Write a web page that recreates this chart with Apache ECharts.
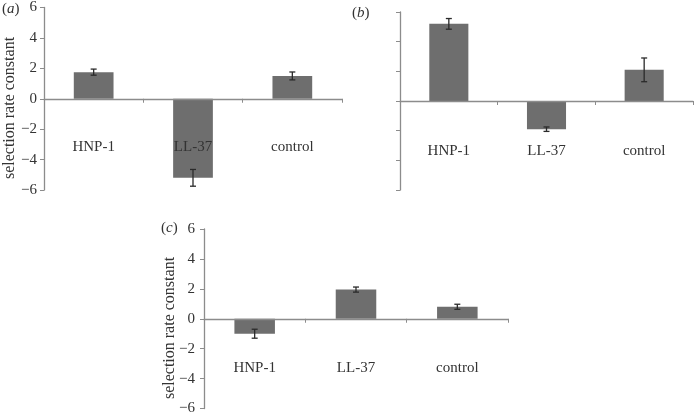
<!DOCTYPE html>
<html>
<head>
<meta charset="utf-8">
<script src="https://cdn.jsdelivr.net/npm/echarts@6/dist/echarts.min.js"></script>
<style>
html,body{margin:0;padding:0;background:#fff;}
#main{width:694px;height:416px;}
</style>
</head>
<body>
<div id="main"></div>
<script>
// ---- data ----
const categories = ['HNP-1', 'LL-37', 'control'];
const valuesA = [1.75, -5.2, 1.5];
const errorsA = [0.2, 0.55, 0.26];
const valuesB = [5.2, -1.9, 2.1];
const errorsB = [0.36, 0.15, 0.8];
const valuesC = [-1.0, 1.95, 0.8];
const errorsC = [0.3, 0.17, 0.17];
const yMin = -6, yMax = 6, yStep = 2;
const yTitle = 'selection rate constant';
const panelLabels = ['a', 'b', 'c'];

const FONT = '"Liberation Serif", "Times New Roman", serif';
const TEXT = '#333';
const AXIS = '#8c8c8c';
const BAR = '#6e6e6e';

const chart = echarts.init(document.getElementById('main'), null, {renderer: 'canvas'});

const grids = [
  {left: 44, top: 7, width: 298, height: 183},
  {left: 400, top: 12, width: 293, height: 178},
  {left: 204, top: 229, width: 304, height: 180}
];
const showYLabels = [true, false, true];
const yLabelMargin = [7, 7, 9];
const xLabelMargin = [-50, -46, -48];
const values = [valuesA, valuesB, valuesC];
const errors = [errorsA, errorsB, errorsC];

const xAxes = grids.map((g, i) => ({
  type: 'category', gridIndex: i, data: categories, z: 5,
  axisLine: {onZero: true, lineStyle: {color: AXIS, width: 1.3}},
  axisTick: {show: true, alignWithLabel: false, length: 4, lineStyle: {color: AXIS}},
  axisLabel: {margin: xLabelMargin[i], fontFamily: FONT, fontSize: 15, color: TEXT}
}));
const yAxes = grids.map((g, i) => ({
  type: 'value', gridIndex: i, min: yMin, max: yMax, interval: yStep,
  splitLine: {show: false},
  axisLine: {show: true, lineStyle: {color: AXIS, width: 1.3}},
  axisTick: {show: true, length: 4, lineStyle: {color: AXIS}},
  axisLabel: {show: showYLabels[i], margin: yLabelMargin[i], fontFamily: FONT, fontSize: 15, color: TEXT,
    formatter: v => String(v).replace('-', '\u2212')}
}));

const series = [];
values.forEach((vals, i) => {
  series.push({
    type: 'bar', xAxisIndex: i, yAxisIndex: i, data: vals, barWidth: '40%',
    itemStyle: {color: BAR}, z: 2
  });
  series.push({
    type: 'custom', xAxisIndex: i, yAxisIndex: i, z: 6,
    data: vals.map((v, k) => [k, v - errors[i][k], v + errors[i][k]]),
    encode: {x: 0, y: [1, 2]},
    renderItem: function (params, api) {
      const lo = api.coord([api.value(0), api.value(1)]);
      const hi = api.coord([api.value(0), api.value(2)]);
      const hw = 3;
      const st = {stroke: '#2a2a2a', lineWidth: 1.3};
      return {type: 'group', children: [
        {type: 'line', shape: {x1: lo[0], y1: lo[1], x2: hi[0], y2: hi[1]}, style: st},
        {type: 'line', shape: {x1: lo[0] - hw, y1: lo[1], x2: lo[0] + hw, y2: lo[1]}, style: st},
        {type: 'line', shape: {x1: hi[0] - hw, y1: hi[1], x2: hi[0] + hw, y2: hi[1]}, style: st}
      ]};
    }
  });
});

function panelLabel(letter, x, y) {
  return {type: 'text', x: x, y: y,
    style: {text: '({i|' + letter + '})', font: '15px ' + FONT, fill: TEXT,
      rich: {i: {fontFamily: FONT, fontSize: 15, fontStyle: 'italic', fill: TEXT}}}};
}

const graphic = [
  {type: 'text', x: 10, y: 108, rotation: Math.PI / 2,
   style: {text: yTitle, font: '16px ' + FONT, fill: TEXT, textAlign: 'center', textVerticalAlign: 'middle'}},
  {type: 'text', x: 170, y: 328, rotation: Math.PI / 2,
   style: {text: yTitle, font: '16px ' + FONT, fill: TEXT, textAlign: 'center', textVerticalAlign: 'middle'}},
  panelLabel(panelLabels[0], 2, 2),
  panelLabel(panelLabels[1], 352, 6),
  panelLabel(panelLabels[2], 161, 221)
];

chart.setOption({
  backgroundColor: '#fff',
  animation: false,
  grid: grids,
  xAxis: xAxes,
  yAxis: yAxes,
  series: series,
  graphic: graphic
});
</script>
</body>
</html>
